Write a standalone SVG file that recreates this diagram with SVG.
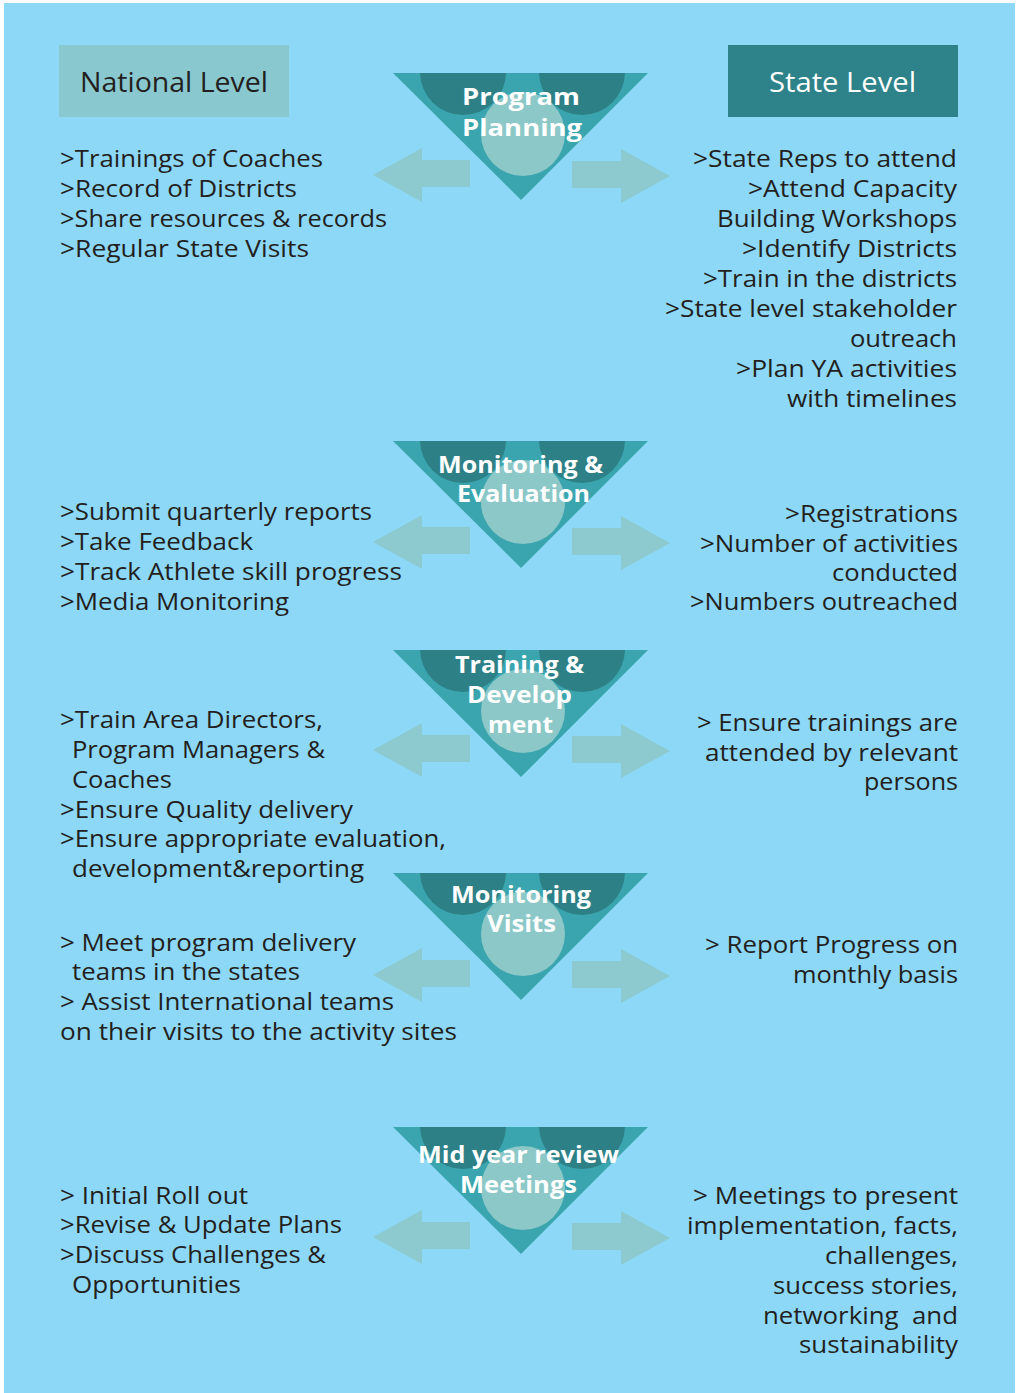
<svg xmlns="http://www.w3.org/2000/svg" width="1018" height="1393" viewBox="0 0 1018 1393">
<style>
.body{font-family:"Open Sans","Liberation Sans",sans-serif;font-size:24px;fill:#231f20}
.lbl{font-family:"Open Sans","Liberation Sans",sans-serif;font-size:23px;font-weight:bold;fill:#ffffff}
.hdr{font-family:"Open Sans","Liberation Sans",sans-serif;font-size:28px}
.arrow{fill:#8ccad0}
</style>
<defs>
<clipPath id="triClip"><polygon points="0,0 255,0 128,127"/></clipPath>
<g id="tri">
<polygon points="0,0 255,0 128,127" fill="#3aa5ae"/>
<g clip-path="url(#triClip)">
<circle cx="70" cy="-1" r="43" fill="#2e8087"/>
<circle cx="189" cy="-1" r="43" fill="#2e8087"/>
<circle cx="130" cy="61" r="42" fill="#8cc8c8"/>
</g>
</g>
<path id="arrL" d="M373,0 L422,-27 L422,-15 L470,-15 L470,12 L422,12 L422,27 Z"/>
<path id="arrR" d="M572,-15 L621,-15 L621,-27 L670,0 L621,27 L621,12 L572,12 Z"/>
</defs>
<rect x="0" y="0" width="1018" height="1393" fill="#ffffff"/>
<rect x="4" y="3" width="1011" height="1390" fill="#8dd8f7"/>

<g id="connectors">
<use href="#arrL" class="arrow" transform="translate(0,175)"/>
<use href="#arrR" class="arrow" transform="translate(0,176)"/>
<use href="#arrL" class="arrow" transform="translate(0,542)"/>
<use href="#arrR" class="arrow" transform="translate(0,543)"/>
<use href="#arrL" class="arrow" transform="translate(0,750)"/>
<use href="#arrR" class="arrow" transform="translate(0,751)"/>
<use href="#arrL" class="arrow" transform="translate(0,975)"/>
<use href="#arrR" class="arrow" transform="translate(0,976)"/>
<use href="#arrL" class="arrow" transform="translate(0,1237)"/>
<use href="#arrR" class="arrow" transform="translate(0,1238)"/>
</g>

<g id="national-level">
<rect x="59" y="45" width="230" height="72" fill="#8ac8d0"/>
<text class="hdr" x="80" y="92" fill="#231f20" textLength="188" lengthAdjust="spacingAndGlyphs">National Level</text>
</g>
<g id="state-level">
<rect x="728" y="45" width="230" height="72" fill="#2e8289"/>
<text class="hdr" x="769" y="92" fill="#ffffff" textLength="147" lengthAdjust="spacingAndGlyphs">State Level</text>
</g>

<g id="program-planning">
<use href="#tri" transform="translate(393,73)"/>
<text class="lbl" x="462" y="105" textLength="118" lengthAdjust="spacingAndGlyphs">Program</text>
<text class="lbl" x="462" y="136" textLength="120" lengthAdjust="spacingAndGlyphs">Planning</text>
</g>
<g id="national-planning">
<text class="body" x="60" y="167" textLength="263" lengthAdjust="spacingAndGlyphs">&gt;Trainings of Coaches</text>
<text class="body" x="60" y="197" textLength="237" lengthAdjust="spacingAndGlyphs">&gt;Record of Districts</text>
<text class="body" x="60" y="227" textLength="327" lengthAdjust="spacingAndGlyphs">&gt;Share resources &amp; records</text>
<text class="body" x="60" y="257" textLength="249" lengthAdjust="spacingAndGlyphs">&gt;Regular State Visits</text>
</g>
<g id="state-planning">
<text class="body" x="693" y="167" textLength="264" lengthAdjust="spacingAndGlyphs">&gt;State Reps to attend</text>
<text class="body" x="748" y="197" textLength="209" lengthAdjust="spacingAndGlyphs">&gt;Attend Capacity</text>
<text class="body" x="717" y="227" textLength="240" lengthAdjust="spacingAndGlyphs">Building Workshops</text>
<text class="body" x="742" y="257" textLength="215" lengthAdjust="spacingAndGlyphs">&gt;Identify Districts</text>
<text class="body" x="703" y="287" textLength="254" lengthAdjust="spacingAndGlyphs">&gt;Train in the districts</text>
<text class="body" x="665" y="317" textLength="292" lengthAdjust="spacingAndGlyphs">&gt;State level stakeholder</text>
<text class="body" x="850" y="347" textLength="107" lengthAdjust="spacingAndGlyphs">outreach</text>
<text class="body" x="736" y="377" textLength="221" lengthAdjust="spacingAndGlyphs">&gt;Plan YA activities</text>
<text class="body" x="787" y="407" textLength="170" lengthAdjust="spacingAndGlyphs">with timelines</text>
</g>

<g id="monitoring-evaluation">
<use href="#tri" transform="translate(393,441)"/>
<text class="lbl" x="438" y="473" textLength="165" lengthAdjust="spacingAndGlyphs">Monitoring &amp;</text>
<text class="lbl" x="457" y="502" textLength="133" lengthAdjust="spacingAndGlyphs">Evaluation</text>
</g>
<g id="national-monitoring">
<text class="body" x="60" y="520" textLength="312" lengthAdjust="spacingAndGlyphs">&gt;Submit quarterly reports</text>
<text class="body" x="60" y="550" textLength="193" lengthAdjust="spacingAndGlyphs">&gt;Take Feedback</text>
<text class="body" x="60" y="580" textLength="342" lengthAdjust="spacingAndGlyphs">&gt;Track Athlete skill progress</text>
<text class="body" x="60" y="610" textLength="229" lengthAdjust="spacingAndGlyphs">&gt;Media Monitoring</text>
</g>
<g id="state-monitoring">
<text class="body" x="785" y="522" textLength="173" lengthAdjust="spacingAndGlyphs">&gt;Registrations</text>
<text class="body" x="700" y="552" textLength="258" lengthAdjust="spacingAndGlyphs">&gt;Number of activities</text>
<text class="body" x="832" y="581" textLength="126" lengthAdjust="spacingAndGlyphs">conducted</text>
<text class="body" x="690" y="610" textLength="268" lengthAdjust="spacingAndGlyphs">&gt;Numbers outreached</text>
</g>

<g id="training-development">
<use href="#tri" transform="translate(393,650)"/>
<text class="lbl" x="455" y="673" textLength="129" lengthAdjust="spacingAndGlyphs">Training &amp;</text>
<text class="lbl" x="467" y="703" textLength="105" lengthAdjust="spacingAndGlyphs">Develop</text>
<text class="lbl" x="488" y="733" textLength="65" lengthAdjust="spacingAndGlyphs">ment</text>
</g>
<g id="national-training">
<text class="body" x="60" y="728" textLength="263" lengthAdjust="spacingAndGlyphs">&gt;Train Area Directors,</text>
<text class="body" x="72" y="758" textLength="253" lengthAdjust="spacingAndGlyphs">Program Managers &amp;</text>
<text class="body" x="72" y="788" textLength="100" lengthAdjust="spacingAndGlyphs">Coaches</text>
<text class="body" x="60" y="818" textLength="293" lengthAdjust="spacingAndGlyphs">&gt;Ensure Quality delivery</text>
<text class="body" x="60" y="847" textLength="386" lengthAdjust="spacingAndGlyphs">&gt;Ensure appropriate evaluation,</text>
<text class="body" x="72" y="877" textLength="292" lengthAdjust="spacingAndGlyphs">development&amp;reporting</text>
</g>
<g id="state-training">
<text class="body" x="697" y="731" textLength="261" lengthAdjust="spacingAndGlyphs">&gt; Ensure trainings are</text>
<text class="body" x="705" y="761" textLength="253" lengthAdjust="spacingAndGlyphs">attended by relevant</text>
<text class="body" x="864" y="790" textLength="94" lengthAdjust="spacingAndGlyphs">persons</text>
</g>

<g id="monitoring-visits">
<use href="#tri" transform="translate(393,873)"/>
<text class="lbl" x="451" y="903" textLength="140" lengthAdjust="spacingAndGlyphs">Monitoring</text>
<text class="lbl" x="487" y="932" textLength="69" lengthAdjust="spacingAndGlyphs">Visits</text>
</g>
<g id="national-visits">
<text class="body" x="60" y="951" textLength="296" lengthAdjust="spacingAndGlyphs">&gt; Meet program delivery</text>
<text class="body" x="72" y="980" textLength="228" lengthAdjust="spacingAndGlyphs">teams in the states</text>
<text class="body" x="60" y="1010" textLength="334" lengthAdjust="spacingAndGlyphs">&gt; Assist International teams</text>
<text class="body" x="60" y="1040" textLength="397" lengthAdjust="spacingAndGlyphs">on their visits to the activity sites</text>
</g>
<g id="state-visits">
<text class="body" x="705" y="953" textLength="253" lengthAdjust="spacingAndGlyphs">&gt; Report Progress on</text>
<text class="body" x="793" y="983" textLength="165" lengthAdjust="spacingAndGlyphs">monthly basis</text>
</g>

<g id="mid-year-review">
<use href="#tri" transform="translate(393,1127)"/>
<text class="lbl" x="418" y="1163" textLength="201" lengthAdjust="spacingAndGlyphs">Mid year review</text>
<text class="lbl" x="460" y="1193" textLength="117" lengthAdjust="spacingAndGlyphs">Meetings</text>
</g>
<g id="national-review">
<text class="body" x="60" y="1204" textLength="188" lengthAdjust="spacingAndGlyphs">&gt; Initial Roll out</text>
<text class="body" x="60" y="1233" textLength="282" lengthAdjust="spacingAndGlyphs">&gt;Revise &amp; Update Plans</text>
<text class="body" x="60" y="1263" textLength="266" lengthAdjust="spacingAndGlyphs">&gt;Discuss Challenges &amp;</text>
<text class="body" x="72" y="1293" textLength="169" lengthAdjust="spacingAndGlyphs">Opportunities</text>
</g>
<g id="state-review">
<text class="body" x="693" y="1204" textLength="265" lengthAdjust="spacingAndGlyphs">&gt; Meetings to present</text>
<text class="body" x="687" y="1234" textLength="271" lengthAdjust="spacingAndGlyphs">implementation, facts,</text>
<text class="body" x="825" y="1264" textLength="133" lengthAdjust="spacingAndGlyphs">challenges,</text>
<text class="body" x="773" y="1294" textLength="185" lengthAdjust="spacingAndGlyphs">success stories,</text>
<text class="body" x="763" y="1324" textLength="195" lengthAdjust="spacingAndGlyphs" style="white-space:pre">networking  and</text>
<text class="body" x="799" y="1353" textLength="159" lengthAdjust="spacingAndGlyphs">sustainability</text>
</g>
</svg>
